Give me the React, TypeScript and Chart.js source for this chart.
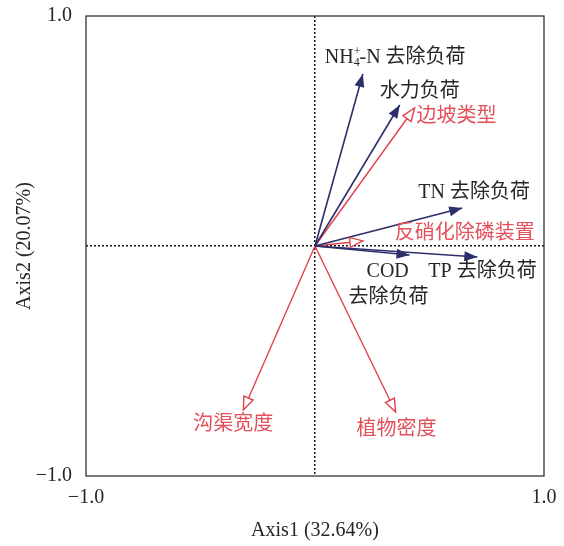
import React, { useEffect, useRef } from 'react';
import { Chart, registerables } from 'chart.js';
Chart.register(...registerables);

// ---- data ----
const responseNames = ['NH4+-N 去除负荷', '水力负荷', 'TN 去除负荷', 'TP 去除负荷', 'COD\n去除负荷'];
const responseX = [0.209, 0.37, 0.643, 0.709, 0.413];
const responseY = [0.748, 0.613, 0.165, -0.048, -0.039];
const envNames = ['边坡类型', '反硝化除磷装置', '沟渠宽度', '植物密度'];
const envX = [0.435, 0.209, -0.313, 0.352];
const envY = [0.6, 0.022, -0.713, -0.722];
const labeledTicks = [-1, 1];
const xTitle = 'Axis1 (32.64%)';
const yTitle = 'Axis2 (20.07%)';

// ---- styles ----
const NAVY = '#2d2f6c';
const RED = '#e2424c';
const RED_TEXT = '#e2505a';
const TEXT = '#262626';
const FONT_FAMILY = '"Liberation Serif", "Noto Sans CJK SC", serif';
const FONT_SIZE = 20;
// per-line label offsets (px) relative to the arrow tip
const responseLabelOffsets = [
  [[-38, -16]],
  [[-20, -13]],
  [[-44, -15]],
  [[-49, 15]],
  [[-43, 17], [-61, 43]],
];
const envLabelOffsets = [
  [[2, 9]],
  [[32, -7]],
  [[-50, 15]],
  [[-39, 18]],
];

const fmt = (v: number) => (v < 0 ? '\u2212' + Math.abs(v).toFixed(1) : v.toFixed(1));

function drawLabelLine(ctx: CanvasRenderingContext2D, text: string, x: number, y: number) {
  if (text.startsWith('NH4+')) {
    const big = `${FONT_SIZE}px ${FONT_FAMILY}`;
    const small = `12px ${FONT_FAMILY}`;
    ctx.font = big;
    ctx.fillText('NH', x, y);
    let cx = x + ctx.measureText('NH').width;
    ctx.font = small;
    ctx.fillText('4', cx, y + 5);
    ctx.fillText('+', cx, y - 6);
    cx += Math.max(ctx.measureText('4').width, ctx.measureText('+').width) - 1;
    ctx.font = big;
    ctx.fillText(text.slice(4), cx, y);
  } else {
    ctx.font = `${FONT_SIZE}px ${FONT_FAMILY}`;
    ctx.fillText(text, x, y);
  }
}

const arrowPlugin = {
  id: 'arrowsAndLabels',
  afterDatasetsDraw(chart: any) {
    const ctx: CanvasRenderingContext2D = chart.ctx;
    chart.data.datasets.forEach((ds: any, i: number) => {
      const meta = chart.getDatasetMeta(i);
      const p0 = meta.data[0];
      const p1 = meta.data[1];
      const ang = Math.atan2(p1.y - p0.y, p1.x - p0.x);
      const len = 13;
      const hw = 5;
      const bx = p1.x - len * Math.cos(ang);
      const by = p1.y - len * Math.sin(ang);
      const nx = -Math.sin(ang);
      const ny = Math.cos(ang);
      ctx.save();
      ctx.beginPath();
      ctx.moveTo(p1.x, p1.y);
      ctx.lineTo(bx + hw * nx, by + hw * ny);
      ctx.lineTo(bx - hw * nx, by - hw * ny);
      ctx.closePath();
      if (ds.arrowOpen) {
        ctx.fillStyle = '#ffffff';
        ctx.fill();
        ctx.strokeStyle = ds.borderColor;
        ctx.lineWidth = 1.4;
        ctx.lineJoin = 'miter';
        ctx.stroke();
      } else {
        ctx.fillStyle = ds.borderColor;
        ctx.fill();
      }
      // labels
      ctx.fillStyle = ds.labelColor;
      ctx.textAlign = 'left';
      ctx.textBaseline = 'middle';
      const lines = String(ds.label).split('\n');
      lines.forEach((t: string, k: number) => {
        const off = ds.labelOffsets[k];
        drawLabelLine(ctx, t, p1.x + off[0], p1.y + off[1]);
      });
      ctx.restore();
    });
  },
  afterDraw(chart: any) {
    const { left, top, right, bottom } = chart.chartArea;
    const ctx: CanvasRenderingContext2D = chart.ctx;
    ctx.save();
    ctx.strokeStyle = '#333333';
    ctx.lineWidth = 1.3;
    ctx.strokeRect(left, top, right - left, bottom - top);
    ctx.restore();
  },
};

export default function App() {
  const ref = useRef<HTMLCanvasElement>(null);
  useEffect(() => {
    if (!ref.current) return;
    const datasets: any[] = [];
    responseNames.forEach((n, i) => {
      datasets.push({
        label: n,
        data: [
          { x: 0, y: 0 },
          { x: responseX[i], y: responseY[i] },
        ],
        borderColor: NAVY,
        borderWidth: 1.6,
        pointRadius: 0,
        showLine: true,
        arrowOpen: false,
        labelColor: TEXT,
        labelOffsets: responseLabelOffsets[i],
      });
    });
    envNames.forEach((n, i) => {
      datasets.push({
        label: n,
        data: [
          { x: 0, y: 0 },
          { x: envX[i], y: envY[i] },
        ],
        borderColor: RED,
        borderWidth: 1.4,
        pointRadius: 0,
        showLine: true,
        arrowOpen: true,
        labelColor: RED_TEXT,
        labelOffsets: envLabelOffsets[i],
      });
    });

    const gridColor = (c: any) => (c.tick && c.tick.value === 0 ? '#111111' : 'rgba(0,0,0,0)');
    const tickFont = { family: FONT_FAMILY, size: FONT_SIZE };

    const chart = new Chart(ref.current, {
      type: 'scatter',
      data: { datasets },
      plugins: [arrowPlugin],
      options: {
        animation: false,
        responsive: false,
        layout: { padding: 0 },
        plugins: { legend: { display: false }, tooltip: { enabled: false } },
        scales: {
          x: {
            type: 'linear',
            min: -1,
            max: 1,
            afterFit: (s: any) => {
              s.height = 70;
              s.paddingLeft = 0;
              s.paddingRight = 20;
            },
            ticks: {
              stepSize: 1,
              autoSkip: false,
              maxRotation: 0,
              padding: 10,
              color: TEXT,
              font: tickFont,
              callback: (v: any) => (labeledTicks.includes(Number(v)) ? fmt(Number(v)) : ''),
            },
            grid: { color: gridColor, lineWidth: 1.5, drawTicks: false },
            border: { display: false, dash: [2, 2] },
            title: {
              display: true,
              text: xTitle,
              color: TEXT,
              font: tickFont,
              padding: { top: 0, bottom: 3 },
            },
          },
          y: {
            type: 'linear',
            min: -1,
            max: 1,
            afterFit: (s: any) => {
              s.width = 86;
              s.paddingTop = 16;
              s.paddingBottom = 0;
            },
            ticks: {
              stepSize: 1,
              autoSkip: false,
              padding: 14,
              color: TEXT,
              font: tickFont,
              callback: (v: any) => (labeledTicks.includes(Number(v)) ? fmt(Number(v)) : ''),
            },
            grid: { color: gridColor, lineWidth: 1.5, drawTicks: false },
            border: { display: false, dash: [2, 2] },
            title: {
              display: true,
              text: yTitle,
              color: TEXT,
              font: tickFont,
              padding: { top: 13, bottom: 0 },
            },
          },
        },
      } as any,
    });
    return () => chart.destroy();
  }, []);

  return (
    <div style={{ position: 'fixed', left: 0, top: 0, width: 564, height: 546, background: '#fff' }}>
      <canvas ref={ref} width={564} height={546} style={{ display: 'block' }} />
    </div>
  );
}
